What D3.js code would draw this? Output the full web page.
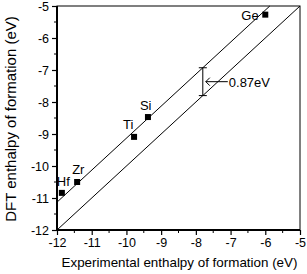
<!DOCTYPE html>
<html><head><meta charset="utf-8">
<script src="https://cdn.jsdelivr.net/npm/d3@7"></script>
<style>body{margin:0;background:#fff}svg{display:block;font-family:"Liberation Sans",Arial,sans-serif}</style>
</head><body><svg id="c" width="307" height="274"></svg>
<script>
const elements = ["Ge","Si","Ti","Zr","Hf"];
const expValues = [-6.0,-9.38,-9.78,-11.42,-11.86];
const dftValues = [-5.27,-8.47,-9.09,-10.5,-10.84];
const xTicks = [-12,-11,-10,-9,-8,-7,-6,-5];
const yTicks = [-12,-11,-10,-9,-8,-7,-6,-5];
const offset = [0.87];
const annotX = [-7.8];
const annotLabel = ["0.87eV"];

const svg = d3.select("#c");
const L=57,R=300,T=6,B=230;
const x = d3.scaleLinear().domain([-12,-5]).range([L,R]);
const y = d3.scaleLinear().domain([-12,-5]).range([B,T]);

const g = svg.append("g");
g.append("line").attr("x1",x(-12)).attr("y1",y(-12)).attr("x2",x(-5)).attr("y2",y(-5)).attr("stroke","#000").attr("stroke-width",1);
g.append("line").attr("x1",x(-12)).attr("y1",y(-12+offset[0])).attr("x2",x(-5-offset[0])).attr("y2",y(-5)).attr("stroke","#000").attr("stroke-width",1);

const ax=annotX[0], y0=ax, y1=ax+offset[0];
g.append("line").attr("x1",x(ax)).attr("x2",x(ax)).attr("y1",y(y0)).attr("y2",y(y1)).attr("stroke","#000");
[y0,y1].forEach(v=>g.append("line").attr("x1",x(ax)-4).attr("x2",x(ax)+4).attr("y1",y(v)).attr("y2",y(v)).attr("stroke","#000"));
const ym=(y0+y1)/2;
g.append("line").attr("x1",x(ax)+3).attr("x2",x(ax)+25).attr("y1",y(ym)).attr("y2",y(ym)).attr("stroke","#000");
g.append("path").attr("d",`M${x(ax)+7},${y(ym)-4}L${x(ax)+3},${y(ym)}L${x(ax)+7},${y(ym)+4}`).attr("fill","none").attr("stroke","#000");
g.append("text").attr("x",x(ax)+26).attr("y",y(ym)+5).attr("font-size",13).text(annotLabel[0]);

const data = elements.map((e,i)=>({e,x:expValues[i],y:dftValues[i]}));
g.selectAll("rect.p").data(data).join("rect").attr("class","p")
 .attr("x",d=>x(d.x)-3).attr("y",d=>y(d.y)-3).attr("width",6).attr("height",6).attr("fill","#000");
const lblOff = {Ge:[-24,5],Si:[-8,-7],Ti:[-11,-8],Zr:[-5,-8],Hf:[-5,-7]};
g.selectAll("text.l").data(data).join("text").attr("class","l").attr("font-size",13)
 .attr("x",d=>x(d.x)+lblOff[d.e][0]).attr("y",d=>y(d.y)+lblOff[d.e][1]).text(d=>d.e);

svg.append("rect").attr("x",L).attr("y",T).attr("width",R-L).attr("height",B-T).attr("fill","none").attr("stroke","#000").attr("stroke-width",1);

const minor = d3.range(-11.5,-5,1);
const xa = svg.append("g").attr("transform",`translate(0,${B})`)
 .call(d3.axisBottom(x).tickValues(xTicks).tickFormat(d3.format("d")).tickSize(5).tickPadding(3));
const ya = svg.append("g").attr("transform",`translate(${L},0)`)
 .call(d3.axisLeft(y).tickValues(yTicks).tickFormat(d3.format("d")).tickSize(5).tickPadding(3));
[xa,ya].forEach(a=>{a.select(".domain").attr("stroke-width",2);a.selectAll("text").attr("font-size",12.5).attr("font-family","Liberation Sans, Arial, sans-serif").attr("fill","#000");a.selectAll("line").attr("stroke-width",1.2)});
xa.selectAll("text").text(d=>d3.format("d")(d).replace("−","-"));
ya.selectAll("text").text(d=>d3.format("d")(d).replace("−","-"));
xa.select(".domain").attr("d",`M${L},0H${R}`);
ya.select(".domain").attr("d",`M0,${T}V${B}`);
minor.forEach(v=>{
 svg.append("line").attr("x1",x(v)).attr("x2",x(v)).attr("y1",B).attr("y2",B+3).attr("stroke","#000");
 svg.append("line").attr("y1",y(v)).attr("y2",y(v)).attr("x1",L).attr("x2",L-3).attr("stroke","#000");
});

svg.append("text").attr("x",(L+R)/2+1).attr("y",267).attr("text-anchor","middle").attr("font-size",13.4).text("Experimental enthalpy of formation (eV)");
svg.append("text").attr("transform",`translate(16,${(T+B)/2+1}) rotate(-90)`).attr("text-anchor","middle").attr("font-size",15).text("DFT enthalpy of formation (eV)");
</script></body></html>
